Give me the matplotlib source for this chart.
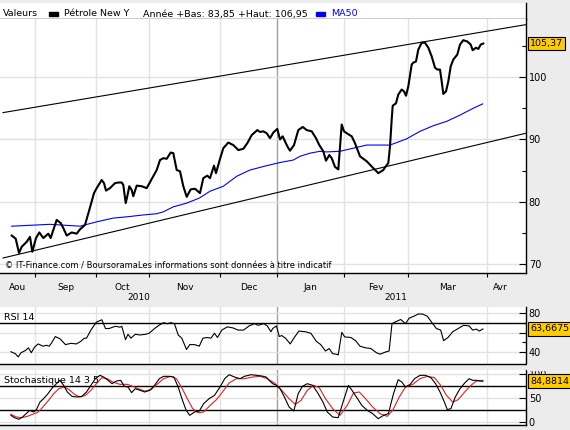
import matplotlib
matplotlib.use('Agg')
import matplotlib.pyplot as plt
from matplotlib.patches import Rectangle

plt.rcParams['font.family'] = ['DejaVu Sans']

# --- donnees (t = position de seance sur l'axe) ---
t_px = [11.7, 15.7, 19, 21.7, 26.7, 30, 32.3, 36, 39.3, 43.3, 48.3, 50.7, 53.3, 56.7, 60.7,
        63.3, 66.7, 71.7, 76.7, 80, 85, 89.3, 94, 96.7, 101.7, 104, 106, 110, 115, 118.3,
        121.7, 123.3, 125.7, 127.3, 129.3, 131.7, 133.3, 136.7, 141.7, 146.7, 153.3, 156.7,
        160, 163.3, 166.7, 170.7, 173.3, 176.7, 180, 183.3, 186.7, 190.7, 195, 200, 203.3,
        207.3, 210, 214, 216, 219.3, 223.3, 228.3, 233.3, 238.3, 243.3, 247.3, 251.7, 257.3,
        260, 263.3, 266.7, 270, 273.3, 277.3, 280, 282.7, 287.3, 290, 294, 298.3, 302.7,
        306.7, 311.7, 316, 319.3, 323.3, 326, 329.3, 331.7, 335, 338.3, 341.7, 344, 346.7,
        351.7, 355, 360, 366.7, 373.3, 378.3, 383.3, 386.7, 388.3, 390, 391.7, 392.7, 396,
        398.3, 401.7, 404, 406, 408.3, 411.7, 413.3, 416, 418.3, 421.7, 425, 428.3, 431.7,
        435, 437.3, 440, 441.7, 443.3, 446, 448.3, 450.7, 453.3, 457.3, 460, 463.3, 467.3,
        470.7, 472.7, 476, 478.3, 480.7, 483.3]
petrole = [74.6, 74.1, 71.8, 72.8, 73.6, 74.4, 72.0, 74.2, 75.1, 74.2, 74.9, 74.2, 75.5, 77.1,
           76.6, 75.8, 74.6, 75.1, 74.9, 75.6, 76.3, 78.7, 81.4, 82.2, 83.5, 83.0, 81.8, 82.2,
           83.0, 83.1, 83.1, 82.7, 79.8, 80.9, 82.5, 81.9, 80.9, 82.6, 82.5, 82.2, 84.1, 85.1,
           86.7, 87.0, 86.9, 87.9, 87.8, 85.1, 84.9, 82.5, 80.8, 82.0, 82.1, 81.4, 83.8, 84.2,
           83.8, 85.8, 84.6, 86.5, 88.6, 89.5, 89.1, 88.3, 88.5, 89.4, 90.7, 91.5, 91.2, 91.3,
           91.0, 90.2, 91.1, 91.7, 90.0, 90.5, 88.9, 88.2, 89.1, 91.5, 92.0, 91.5, 91.3, 90.2,
           89.1, 88.1, 86.6, 87.5, 87.0, 85.6, 85.2, 92.4, 91.3, 91.0, 90.5, 89.4, 87.3, 86.5,
           85.4, 84.6, 85.1, 85.9, 86.2, 88.9, 93.2, 95.4, 95.8, 97.2, 98.0, 97.7, 97.0, 98.5,
           102.0, 102.3, 102.5, 104.4, 105.5, 105.5, 104.7, 103.3, 101.5, 101.2, 101.2, 99.3,
           97.3, 97.7, 99.3, 101.7, 102.8, 103.6, 105.2, 105.9, 105.7, 105.2, 104.3, 104.7,
           104.5, 105.2, 105.37]

t_ma = [11.7, 50, 80, 96.7, 113.3, 126.7, 143.3, 156.7, 163.3, 173.3, 186.7, 199.3, 210,
        223.3, 236.7, 250, 266.7, 280, 293.3, 300, 310, 320, 326.7, 340, 353.3, 366.7, 380,
        390, 406.7, 420, 433.3, 446.7, 460, 473.3, 482.7]
ma50 = [76.1, 76.4, 76.1, 76.8, 77.4, 77.6, 77.9, 78.1, 78.4, 79.2, 79.8, 80.6, 81.7, 82.5,
        84.1, 85.1, 85.8, 86.3, 86.7, 87.3, 87.8, 88.1, 88.0, 88.1, 88.6, 89.1, 89.1, 89.1,
        90.1, 91.3, 92.2, 92.9, 93.9, 95.0, 95.7]

# canal de tendance
chan_t = [3, 526]
chan_hi = [94.3, 108.4]
chan_lo = [71.0, 91.0]

t_rsi = [10.9, 15.3, 18.2, 21.1, 25.5, 28.4, 31.3, 34.5, 38.2, 42.9, 46.5, 49.1, 51.6, 55.3,
         60, 65.5, 70.9, 76.4, 80.7, 84.4, 86.5, 90.9, 96.4, 101.8, 105.5, 109.1, 112.7,
         115.6, 120, 121.8, 125.5, 128, 130.9, 135.3, 140, 145.5, 149.1, 154.5, 160, 163.6,
         167.3, 170.9, 174.5, 178.2, 181.8, 186.5, 189.8, 194.5, 199.3, 202.9, 207.3, 210.9,
         214.5, 217.5, 221.8, 227.3, 232.7, 238.2, 243.6, 249.1, 254.5, 258.2, 263.6, 267.3,
         270.9, 272.7, 276.4, 279.3, 281.8, 285.5, 290.2, 293.8, 298.9, 305.5, 310.9, 316.4,
         320.7, 325.5, 329.1, 332.7, 336.4, 338.2, 341.8, 344.7, 350.9, 355.6, 360, 365.5,
         370.9, 376.4, 380, 385.5, 389.1, 392, 396.4, 400.7, 405.5, 409.1, 413.8, 418.2,
         422.5, 427.3, 432.7, 436.4, 440.7, 443.6, 448, 452.7, 458.2, 463.6, 469.1, 472.7,
         476.4, 479.3, 482.9]
rsi = [40.3, 38.3, 35.0, 39.3, 41.6, 44.3, 39.3, 45.0, 48.3, 46.0, 46.9, 46.0, 49.3, 55.9,
       53.6, 47.6, 48.9, 48.3, 50.9, 54.2, 54.2, 62.5, 70.7, 73.1, 64.1, 64.1, 65.5, 66.4,
       65.5, 66.4, 52.6, 58.2, 54.2, 58.2, 57.5, 58.2, 59.2, 64.1, 68.1, 70.1, 69.0, 70.1,
       69.0, 57.5, 54.2, 42.6, 47.6, 47.6, 46.0, 54.2, 54.9, 54.2, 59.2, 54.9, 62.5, 65.8,
       64.8, 62.5, 62.5, 66.8, 69.1, 67.4, 69.1, 66.8, 60.8, 64.1, 66.8, 55.9, 56.9, 54.2,
       48.3, 54.2, 61.5, 60.8, 59.2, 50.9, 47.6, 41.0, 43.6, 38.3, 37.7, 37.0, 60.2, 55.5,
       54.9, 51.6, 46.0, 44.3, 43.6, 39.3, 37.7, 40.0, 41.0, 69.1, 71.4, 73.4, 69.1, 74.7,
       76.7, 79.0, 79.0, 76.7, 69.1, 64.1, 62.5, 51.6, 54.9, 60.8, 64.1, 67.4, 66.8, 62.5,
       63.5, 61.5, 63.67]

t_k = [10.9, 14.5, 18.9, 22.5, 26.2, 29.8, 33.5, 36.4, 40, 43.6, 48, 51.6, 56.4, 60, 63.6,
       67.3, 72, 77.1, 81.8, 86.5, 90.9, 95.3, 100, 103.6, 107.3, 112, 116.4, 120.7, 124.4,
       128, 131.6, 135.3, 140, 144.7, 149.8, 154.5, 159.3, 163.6, 169.1, 173.8, 178.2,
       182.5, 186.2, 189.8, 194.5, 199.3, 203.6, 209.1, 214.5, 220, 224.7, 229.1, 234.5,
       240, 244.4, 250.9, 256.4, 261.8, 266.2, 269.1, 272.7, 276.4, 280, 283.6, 289.1,
       293.8, 298.2, 302.5, 307.3, 312.7, 318.2, 322.9, 327.3, 332.7, 338.2, 343.6, 348.4,
       352, 356.4, 361.8, 367.3, 372.7, 378.2, 383.6, 388.4, 393.5, 398.2, 401.8, 405.5,
       410.2, 414.5, 420, 425.5, 430.9, 435.6, 440, 444.4, 447.3, 450.9, 455.3, 460, 464.7,
       469.1, 472.7, 476.4, 480, 482.9]
sto_k = [13.9, 9.0, 5.6, 10.4, 17.4, 24.3, 20.8, 25.7, 41.6, 48.6, 59.0, 69.4, 79.8, 86.8,
         76.3, 62.5, 53.4, 52.1, 53.4, 62.5, 76.3, 90.2, 97.2, 93.7, 88.1, 79.8, 85.3, 86.8,
         74.3, 72.9, 61.1, 69.4, 66.0, 62.5, 66.0, 76.3, 90.2, 95.1, 95.1, 93.7, 72.9, 45.1,
         24.3, 13.9, 20.8, 22.9, 38.2, 48.6, 55.5, 72.9, 90.2, 98.5, 93.7, 90.2, 95.1, 98.5,
         97.2, 95.8, 93.7, 86.8, 79.8, 76.3, 69.4, 55.5, 31.2, 22.9, 59.0, 74.3, 79.8, 76.3,
         59.0, 41.6, 20.8, 10.4, 9.0, 45.1, 76.3, 66.0, 52.1, 34.7, 24.3, 17.4, 6.9, 13.9,
         17.4, 59.0, 88.1, 83.3, 72.9, 78.4, 90.2, 97.2, 97.2, 92.3, 79.8, 62.5, 41.6, 25.7,
         27.8, 52.1, 69.4, 81.2, 90.2, 86.8, 86.8, 85.3, 84.88]

t_d = [10.9, 16.4, 21.8, 27.3, 32.7, 38.2, 42.9, 48, 53.8, 58.9, 64.7, 69.1, 74.5, 80, 85.5,
       90.9, 96.4, 101.8, 107.3, 112.7, 120, 127.3, 132.7, 138.2, 144.7, 150.9, 157.1,
       163.6, 170.9, 176.4, 181.8, 187.3, 192.7, 198.2, 203.6, 210.2, 216.4, 222.5, 229.1,
       236.4, 244.4, 252.7, 260, 267.3, 274.5, 281.8, 289.1, 295.3, 301.1, 307.3, 313.5,
       319.3, 325.5, 332.7, 340, 347.3, 353.5, 359.3, 365.5, 372.7, 380, 387.3, 392.7,
       399.3, 405.5, 412.7, 420, 427.3, 434.5, 440.7, 446.5, 452.7, 458.2, 464.7, 470.9,
       476.4, 482.9]
sto_d = [16.0, 10.4, 9.0, 11.8, 16.0, 20.8, 31.2, 43.7, 59.0, 69.4, 72.9, 67.3, 57.6, 52.1,
         55.5, 65.9, 79.8, 92.3, 90.2, 83.3, 78.4, 78.4, 74.3, 69.4, 64.5, 67.3, 78.4, 90.2,
         95.1, 90.2, 71.5, 48.6, 27.8, 19.4, 20.8, 34.7, 46.5, 62.5, 81.2, 90.2, 90.2, 93.7,
         95.1, 90.2, 81.2, 65.9, 48.6, 36.8, 45.1, 65.9, 76.3, 71.5, 48.6, 27.8, 13.9, 34.7,
         60.4, 62.5, 48.6, 31.2, 17.4, 11.8, 24.3, 52.1, 72.9, 78.4, 90.2, 95.1, 92.3, 76.3,
         55.5, 41.6, 46.5, 62.5, 76.3, 85.3, 86.8]

month_start = [35, 96, 149, 220, 277, 344, 408, 487]
month_lab = ['Aou', 'Sep', 'Oct', 'Nov', 'Dec', 'Jan', 'Fev', 'Mar', 'Avr']
year_lab = ['2010', '2011']
last_px, last_rsi, last_sto = 105.37, 63.6675, 84.8814

W, H = 570, 430
BG = '#ececec'
GRID = '#e2e2e2'


def box(x0, y0, x1, y1):
    return [x0 / W, 1 - y1 / H, (x1 - x0) / W, (y1 - y0) / H]


def fx(x):
    return x / W


def fy(y):
    return 1 - y / H


def habille(ax):
    for s in ['left', 'top']:
        ax.spines[s].set_visible(False)
    ax.spines['right'].set_linewidth(1)
    ax.spines['bottom'].set_linewidth(1)
    ax.set_xlim(0, 526)
    ax.yaxis.tick_right()
    ax.tick_params(axis='y', direction='in', length=5, width=0.8, pad=2, labelsize=7,
                   which='major')
    ax.tick_params(axis='y', direction='in', length=3, width=0.8, which='minor')
    for i, m in enumerate(month_start):
        ax.axvline(m, color='#a0a0a0' if i == 4 else GRID, lw=1, zorder=0)


def etiquette(ax, val, txt):
    ax.text(1 + 4 / 526, val, txt, transform=ax.get_yaxis_transform(), ha='left', va='center',
            fontsize=6.8, clip_on=False, zorder=10,
            bbox=dict(boxstyle='square,pad=0.25', fc='#ffcc00', ec='black', lw=0.8))


fig = plt.figure(figsize=(5.7, 4.3), dpi=100, facecolor=BG)

# bandeau de legende
axl = fig.add_axes(box(0, 3, 526, 19))
axl.set_xticks([])
axl.set_yticks([])
for s in ['left', 'top']:
    axl.spines[s].set_visible(False)
axl.spines['right'].set_linewidth(1)
axl.spines['bottom'].set_linewidth(1)

fig.text(fx(3), fy(14), 'Valeurs', fontsize=6.8, va='center')
fig.add_artist(Rectangle((fx(49), fy(15.7)), 9 / W, 3.3 / H, transform=fig.transFigure,
                         color='black'))
fig.text(fx(64), fy(14), 'Pétrole New Y', fontsize=6.8, va='center')
fig.text(fx(143), fy(14), 'Année +Bas: 83,85 +Haut: 106,95', fontsize=6.8, va='center')
fig.add_artist(Rectangle((fx(316), fy(15.7)), 9 / W, 3.3 / H, transform=fig.transFigure,
                         color='#0000ff'))
fig.text(fx(331), fy(14), 'MA50', fontsize=6.8, va='center', color='#0000ff')

# graphique principal
ax = fig.add_axes(box(0, 19, 526, 273))
habille(ax)
ax.set_ylim(68.6, 109.3)
ax.set_yticks([70, 80, 90, 100])
ax.set_yticks([75, 85, 95, 105], minor=True)
for v in [70, 80, 90, 100]:
    ax.axhline(v, color=GRID, lw=1, zorder=0)
ax.plot(chan_t, chan_hi, color='black', lw=0.8)
ax.plot(chan_t, chan_lo, color='black', lw=0.8)
ax.plot(t_ma, ma50, color='#0000ff', lw=0.8)
ax.plot(t_px, petrole, color='black', lw=1.5, solid_joinstyle='round')
etiquette(ax, last_px, '105,37')

bords = [0] + month_start + [514]
mids = [(bords[i] + bords[i + 1]) / 2 for i in range(len(month_lab))]
ax.set_xticks(month_start)
ax.set_xticklabels([])
ax.set_xticks(mids, minor=True)
ax.set_xticklabels(month_lab, minor=True)
ax.tick_params(axis='x', which='major', direction='out', length=3, width=0.8)
ax.tick_params(axis='x', which='minor', length=0, pad=7, labelsize=6.5)
ax.text(5 / 526, 69.65,
        '© IT-Finance.com / BoursoramaLes informations sont données à titre indicatif',
        transform=ax.get_yaxis_transform(), fontsize=6, va='center')
fig.text(fx((0 + month_start[4]) / 2), fy(297), year_lab[0], fontsize=6.5, ha='center',
         va='center')
fig.text(fx((month_start[4] + bords[-1]) / 2), fy(297), year_lab[1], fontsize=6.5,
         ha='center', va='center')

# RSI
ar = fig.add_axes(box(0, 307, 526, 364))
habille(ar)
ar.set_ylim(27.7, 86.2)
ar.set_xticks([])
ar.set_yticks([40, 60, 80])
ar.set_yticklabels(['40', '', '80'])
ar.set_yticks([50, 70], minor=True)
for v in [40, 60, 80]:
    ar.axhline(v, color=GRID, lw=1, zorder=0)
ar.axhline(70, color='black', lw=1)
ar.plot(t_rsi, rsi, color='black', lw=0.8)
ar.text(4, 71, 'RSI 14', fontsize=6.8, va='bottom')
etiquette(ar, last_rsi, '63,6675')

# Stochastique
ast = fig.add_axes(box(0, 370, 526, 425))
habille(ast)
ast.set_ylim(-6.25, 108.3)
ast.set_xticks([])
ast.set_yticks([0, 50, 100])
for v in [0, 50, 100]:
    ast.axhline(v, color=GRID, lw=1, zorder=0)
ast.axhline(75, color='black', lw=1)
ast.axhline(25, color='black', lw=1)
ast.plot(t_d, sto_d, color='#e02020', lw=0.8)
ast.plot(t_k, sto_k, color='black', lw=0.8)
ast.text(4, 77, 'Stochastique 14 3 5', fontsize=6.8, va='bottom')
etiquette(ast, last_sto, '84,8814')

# bande grise entre les panneaux (coupe le "100")
fig.add_artist(Rectangle((fx(526.5), fy(370)), 43 / W, 6 / H, transform=fig.transFigure,
                         color=BG, zorder=20))

plt.savefig('out.png', dpi=100, facecolor=BG)
